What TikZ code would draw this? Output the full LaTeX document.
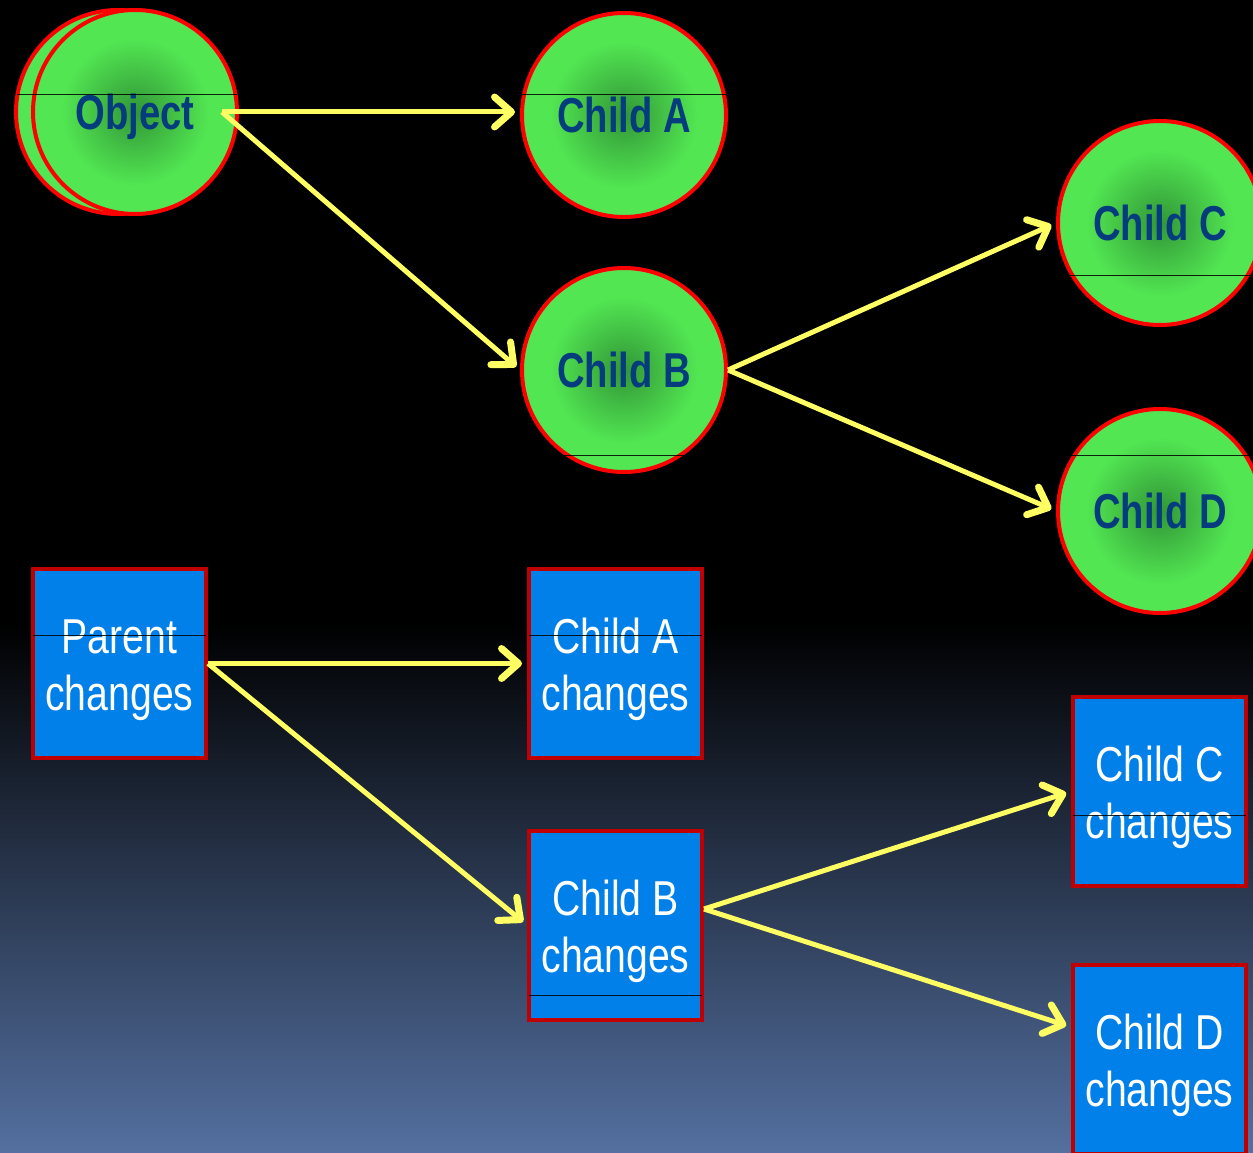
\documentclass[tikz,border=0pt]{standalone}
\usepackage{fontspec}
\usetikzlibrary{arrows.meta,calc}

\newfontfamily\ballfont[FakeStretch=0.78]{Liberation Sans Bold}
\newfontfamily\boxfont[FakeStretch=0.80]{Liberation Sans}

\definecolor{ballcore}{RGB}{50,150,55}
\definecolor{ballrim}{RGB}{82,230,82}
\definecolor{balltext}{RGB}{5,60,125}
\definecolor{boxfill}{RGB}{0,128,232}
\definecolor{boxedge}{RGB}{192,0,0}
\definecolor{linkyellow}{RGB}{255,255,100}
\definecolor{bgbottom}{RGB}{84,112,160}

% green balls: dark core fading to a bright rim
\pgfdeclareradialshading{ballshade}{\pgfpoint{0bp}{0bp}}{color(0bp)=(ballcore); color(18bp)=(ballrim); color(25bp)=(ballrim); color(50bp)=(ballrim)}
% backdrop: black above, blue-grey towards the bottom
\pgfdeclareverticalshading{skyshade}{100bp}{color(0bp)=(bgbottom); color(25bp)=(bgbottom); color(48bp)=(black); color(100bp)=(black)}

\begin{document}
\begin{tikzpicture}[x=1pt,y=-1pt,
  ball/.style={circle, minimum size=204pt, inner sep=0pt, draw=red, line width=4pt,
    shading=ballshade, text=balltext, text height=35pt, text depth=0pt,
    font=\ballfont\fontsize{49}{58}\selectfont},
  box/.style={rectangle, minimum width=173pt, minimum height=189pt, inner sep=0pt,
    draw=boxedge, line width=4pt, fill=boxfill, text=white, align=center,
    text height=94pt, text depth=0pt,
    font=\boxfont\fontsize{49}{57}\selectfont},
  link/.style={draw=linkyellow, line width=5pt, shorten >=5pt,
    -{Straight Barb[length=17pt,width=30pt,line width=7pt,round]}},
  seam/.style={draw=black, line width=1pt, opacity=0.85}]

\shade[shading=skyshade] (0,0) rectangle (1253,1153);
\useasboundingbox (0,0) rectangle (1253,1153);

% object hierarchy
\node[ball] (objback) at (118,112) {};
\node[ball] (obj) at (135,112) {Object};
\node[ball] (ca) at (624,115) {Child A};
\node[ball] (cb) at (624,370) {Child B};
\node[ball] (cc) at (1160,223) {Child C};
\node[ball] (cd) at (1160,511) {Child D};

% change propagation
\node[box] (pa) at (119.5,663.5) {Parent\\changes};
\node[box] (ra) at (615.5,663.5) {Child A\\changes};
\node[box] (rb) at (615.5,925) {Child B\\changes};
\node[box] (rc) at (1159.5,791.5) {Child C\\changes};
\node[box] (rd) at (1159.5,1059) {Child D\\changes};

% thin seams across the shapes
\draw[seam] (17,95) -- (237,95);
\draw[seam] (522,95) -- (726,95);
\draw[seam] (564,455) -- (684,455);
\draw[seam] (1070,275) -- (1253,275);
\draw[seam] (1072,455) -- (1253,455);
\draw[seam] (33,635) -- (206,635);
\draw[seam] (529,635) -- (702,635);
\draw[seam] (529,995) -- (702,995);
\draw[seam] (1073,815) -- (1246,815);

% links
\draw[link] ([xshift=-17pt]obj.east) -- ([yshift=3pt]ca.west);
\draw[link] ([xshift=-17pt]obj.east) -- (cb.west);
\draw[link] (cb.east) -- (cc.west);
\draw[link] (cb.east) -- (cd.west);

\draw[link] (pa.east) -- (ra.west);
\draw[link] (pa.east) -- (rb.west);
\draw[link] ([yshift=16pt]rb.east) -- (rc.west);
\draw[link] ([yshift=16pt]rb.east) -- ([yshift=32pt]rd.west);
\end{tikzpicture}
\end{document}
